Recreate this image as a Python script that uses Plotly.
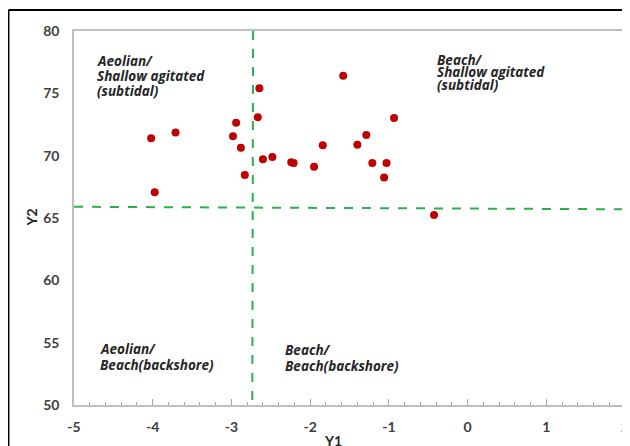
import plotly.graph_objects as go

# Data
y1_values = [-4.02, -3.975, -3.71, -2.98, -2.94, -2.88, -2.83, -2.645, -2.666, -2.60,
             -2.48, -2.24, -2.21, -1.95, -1.84, -1.58, -1.40, -1.286, -1.21, -1.03,
             -1.06, -0.934, -0.426]
y2_values = [71.4, 67.06, 71.85, 71.55, 72.65, 70.64, 68.45, 75.4, 73.08, 69.71,
             69.9, 69.47, 69.41, 69.12, 70.83, 76.42, 70.88, 71.66, 69.41, 69.41,
             68.24, 73.02, 65.24]

# threshold (dividing) lines
vline_x = [-2.725, -2.735]
vline_y = [80, 50]
hline_x = [-5, 2]
hline_y = [65.9, 65.7]

x_ticks = [-5, -4, -3, -2, -1, 0, 1, 2]
x_tick_labels = ["-5", "-4", "-3", "-2", "-1", "0", "1", "2"]
y_ticks = [50, 55, 60, 65, 70, 75, 80]
y_tick_labels = ["50", "55", "60", "65", "70", "75", "80"]

# region labels: (lines, x, y-centres of lines)
region_labels = [
    (["Aeolian/", "Shallow agitated", "(subtidal)"], -4.733, [77.63, 76.37, 75.17]),
    (["Beach/", "Shallow agitated", "(subtidal)"], -0.413, [77.67, 76.71, 75.67]),
    (["Aeolian/", "Beach(backshore)"], -4.69, [54.52, 53.17]),
    (["Beach/", "Beach(backshore)"], -2.34, [54.44, 53.10]),
]

FONT = "Lato"
LFONT = "Open Sans"
GREEN = "#2bb14a"
RED = "#c00000"
GRID = "#bfbfbf"

fig = go.Figure()
fig.add_trace(go.Scatter(x=vline_x, y=vline_y, mode="lines",
                         line=dict(color=GREEN, width=2, dash="dash"),
                         hoverinfo="skip", showlegend=False))
fig.add_trace(go.Scatter(x=hline_x, y=hline_y, mode="lines",
                         line=dict(color=GREEN, width=2, dash="dash"),
                         hoverinfo="skip", showlegend=False))
fig.add_trace(go.Scatter(x=y1_values, y=y2_values, mode="markers",
                         marker=dict(color=RED, size=8, line=dict(width=0)),
                         showlegend=False))

annotations = []
for lines, x, ys in region_labels:
    for txt, yy in zip(lines, ys):
        annotations.append(dict(x=x, y=yy, xref="x", yref="y", text=txt,
                                showarrow=False, xanchor="left", yanchor="middle",
                                font=dict(family=LFONT, size=13.5, color="#262626",
                                          weight="bold", style="italic")))
annotations.append(dict(x=-0.098, y=0.5, xref="paper", yref="paper", text="Y2",
                        textangle=-90, showarrow=False,
                        font=dict(family=FONT, size=14, color="#262626", weight="bold")))
annotations.append(dict(x=0.47, y=-0.096, xref="paper", yref="paper", text="Y1",
                        showarrow=False, xanchor="center", yanchor="middle",
                        font=dict(family=FONT, size=14, color="#262626", weight="bold")))

shapes = [
    dict(type="line", xref="paper", yref="paper", x0=-0.1189, x1=1.05, y0=1.056, y1=1.056,
         line=dict(color="black", width=2)),
    dict(type="line", xref="paper", yref="paper", x0=-0.1189, x1=-0.1189, y0=1.056, y1=-0.2,
         line=dict(color="black", width=2)),
]

fig.update_layout(
    width=630, height=446,
    margin=dict(l=66, r=13, t=23, b=49, autoexpand=False),
    paper_bgcolor="white", plot_bgcolor="white",
    annotations=annotations, shapes=shapes,
    font=dict(family=FONT),
)
fig.update_xaxes(range=[-5, 2], tickvals=x_ticks, ticktext=x_tick_labels,
                 showgrid=False, zeroline=False, automargin=False,
                 showline=True, linecolor=GRID, linewidth=1.5, mirror=True,
                 ticks="inside", ticklen=6, tickcolor="#a6a6a6", tickwidth=1,
                 minor=dict(dtick=0.2, ticks="inside", ticklen=3, tickcolor="#a6a6a6", showgrid=False),
                 ticklabelstandoff=8,
                 tickfont=dict(family=FONT, size=14, color="#404040", weight="bold"))
fig.update_yaxes(range=[50, 80], tickvals=y_ticks, ticktext=y_tick_labels,
                 showgrid=False, zeroline=False, automargin=False,
                 showline=True, linecolor=GRID, linewidth=1.5, mirror=True,
                 ticks="", ticklabelstandoff=10,
                 tickfont=dict(family=FONT, size=14, color="#404040", weight="bold"))

fig.write_html("out.html")
